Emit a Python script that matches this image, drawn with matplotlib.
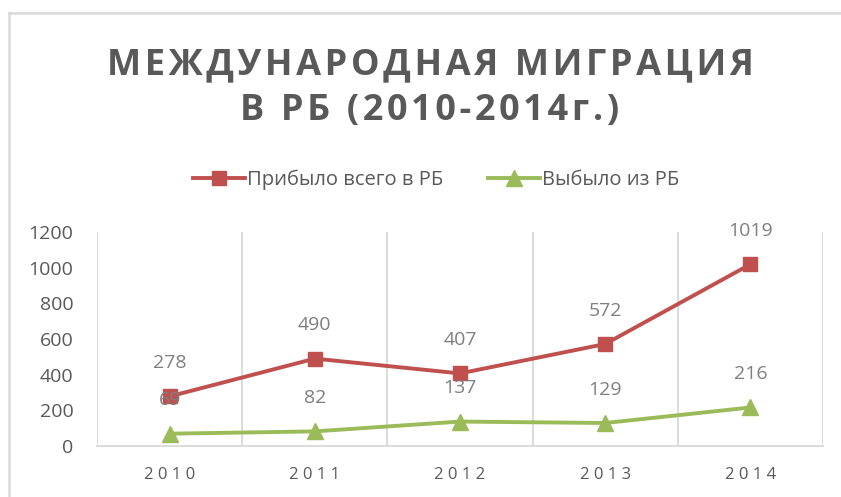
import matplotlib
matplotlib.use('Agg')
import matplotlib.pyplot as plt
from matplotlib.lines import Line2D
import numpy as np

# данные
years = ['2010', '2011', '2012', '2013', '2014']
arrived = [278, 490, 407, 572, 1019]
departed = [69, 82, 137, 129, 216]
label_arrived = 'Прибыло всего в РБ'
label_departed = 'Выбыло из РБ'
title_lines = ['МЕЖДУНАРОДНАЯ МИГРАЦИЯ', 'В РБ (2010-2014г.)']
y_ticks = [0, 200, 400, 600, 800, 1000, 1200]

plt.rcParams['font.family'] = ['Open Sans', 'DejaVu Sans']

red = '#C0504D'
green = '#9BBB59'
grid_c = '#D9D9D9'
tick_c = '#595959'
lab_c = '#7F7F7F'

fig = plt.figure(figsize=(8.41, 4.97), dpi=100)
ax = fig.add_axes([97 / 841, 1 - 446 / 497, 726 / 841, 214 / 497])

x = np.arange(len(years))
ax.plot(x, arrived, color=red, lw=2.8, marker='s', ms=10, label=label_arrived)
ax.plot(x, departed, color=green, lw=2.8, marker='^', ms=11, label=label_departed)

for xi, v in zip(x, arrived):
    ax.annotate(str(v), (xi, v), xytext=(0, 24), textcoords='offset points',
                ha='center', va='center', fontsize=14, color=lab_c)
for xi, v in zip(x, departed):
    ax.annotate(str(v), (xi, v), xytext=(0, 24), textcoords='offset points',
                ha='center', va='center', fontsize=14, color=lab_c)

ax.set_xlim(-0.5, len(years) - 0.5)
ax.set_ylim(0, 1200)
ax.set_yticks(y_ticks)
ax.set_yticklabels([str(t) for t in y_ticks], fontsize=14, color=tick_c)
ax.set_xticks(x)
ax.set_xticklabels([' '.join(y) for y in years], fontsize=12, color=tick_c)
ax.set_xticks(np.arange(-0.5, len(years)), minor=True)
ax.grid(True, which='minor', axis='x', color=grid_c, lw=1.3)
ax.tick_params(axis='both', which='both', length=0)
ax.tick_params(axis='y', pad=17)
ax.tick_params(axis='x', pad=15)
for s in ['top', 'left', 'right']:
    ax.spines[s].set_visible(False)
ax.spines['bottom'].set_color(grid_c)
ax.spines['bottom'].set_linewidth(1.3)

# заголовок с разрядкой
for line, base in zip(title_lines, [74, 120]):
    fig.text(430 / 841, 1 - base / 497, '\u200a'.join(line),
             ha='center', va='baseline', fontsize=26, fontweight='bold', color=tick_c)

fig.legend(loc='center', bbox_to_anchor=(436 / 841, 1 - 180 / 497), ncol=2,
           frameon=False, fontsize=14.5, handlelength=2.6, handletextpad=0.1,
           columnspacing=2.2, labelcolor=tick_c)

# рамка диаграммы
fig.add_artist(Line2D([9 / 841, 9 / 841], [0, 1 - 13 / 497], color=grid_c, lw=1.8))
fig.add_artist(Line2D([9 / 841, 1], [1 - 13 / 497, 1 - 13 / 497], color=grid_c, lw=1.8))

fig.savefig('out.png', dpi=100)
